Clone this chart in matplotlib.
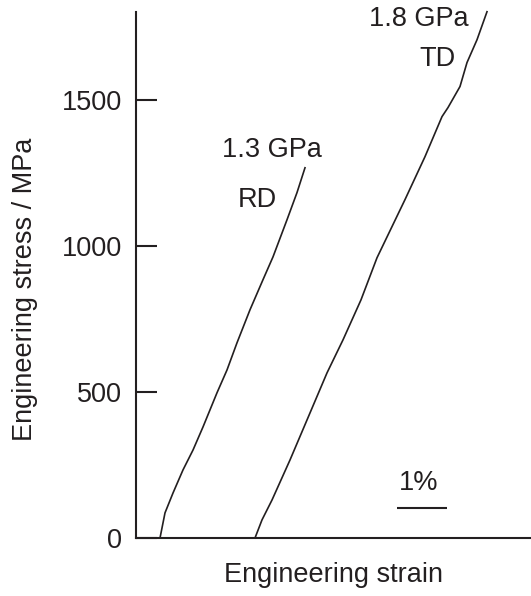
import matplotlib.pyplot as plt

plt.rcParams['font.family'] = ['Liberation Sans', 'DejaVu Sans']

# tensile curves, strain in %, stress in MPa
rd_strain = [0.48, 0.58, 0.74, 0.94, 1.14, 1.34, 1.62, 1.82, 2.02, 2.28, 2.54, 2.74, 3.02, 3.22, 3.38]
rd_stress = [0, 86, 154, 233, 301, 380, 497, 575, 668, 781, 884, 962, 1089, 1182, 1267]

td_strain = [2.38, 2.52, 2.72, 3.08, 3.48, 3.82, 4.14, 4.50, 4.82, 5.38, 5.78, 6.12, 6.24, 6.48, 6.62, 6.82, 7.02]
td_stress = [0, 62, 130, 267, 428, 565, 678, 815, 959, 1158, 1305, 1442, 1473, 1545, 1627, 1705, 1801]

yticks = [0, 500, 1000, 1500]
scale_bar = [5.22, 6.22]  # 1 % strain
scale_bar_y = 103

ink = '#231f20'
fs = 19.5

fig = plt.figure(figsize=(5.31, 5.96), dpi=100)
ax = fig.add_axes([136 / 531, 1 - 538 / 596, 1 - 136 / 531, (538 - 12) / 596])

ax.plot(rd_strain, rd_stress, color=ink, lw=1.2, clip_on=False)
ax.plot(td_strain, td_stress, color=ink, lw=1.2, clip_on=False)

ax.text(2.72, 1329, '1.3 GPa', ha='center', va='center', fontsize=fs, color=ink)
ax.text(2.42, 1158, 'RD', ha='center', va='center', fontsize=fs, color=ink)
ax.text(5.66, 1777, '1.8 GPa', ha='center', va='center', fontsize=fs, color=ink)
ax.text(6.02, 1640, 'TD', ha='center', va='center', fontsize=fs, color=ink)

# strain scale bar
ax.plot(scale_bar, [scale_bar_y, scale_bar_y], color=ink, lw=1.5, solid_capstyle='butt')
ax.text(5.66, 188, '1%', ha='center', va='center', fontsize=fs, color=ink)

ax.set_xlim(0, 7.9)
ax.set_ylim(0, 1800)
ax.set_xticks([])
ax.set_yticks(yticks)
ax.tick_params(axis='y', direction='in', length=15, width=1.5, pad=10,
               labelsize=fs, colors=ink)

for side in ['top', 'right']:
    ax.spines[side].set_visible(False)
for side in ['left', 'bottom']:
    ax.spines[side].set_linewidth(1.5)
    ax.spines[side].set_color(ink)

ax.set_xlabel('Engineering strain', fontsize=fs, color=ink, va='center')
ax.xaxis.set_label_coords(0.5, -0.070)
ax.set_ylabel('Engineering stress / MPa', fontsize=fs, color=ink, va='center')
ax.yaxis.set_label_coords(-0.281, 0.473)

fig.savefig('out.png', dpi=100)
